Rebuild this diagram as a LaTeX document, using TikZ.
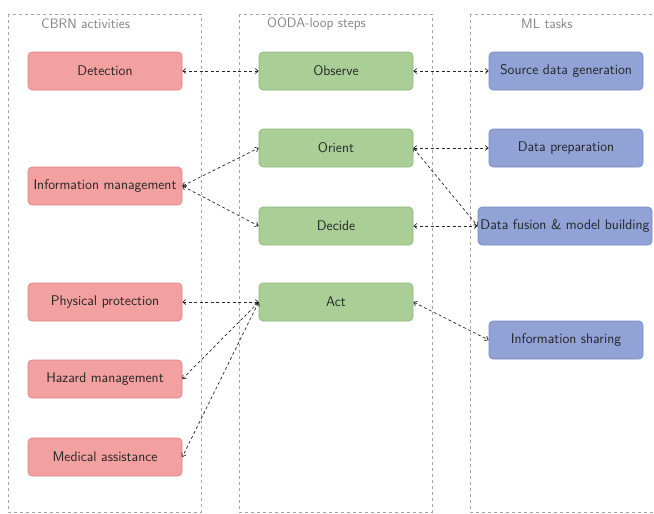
\documentclass[tikz,border=0pt]{standalone}
\usetikzlibrary{arrows.meta}
\definecolor{cbrnfill}{RGB}{243,160,160}
\definecolor{cbrndraw}{RGB}{220,130,130}
\definecolor{oodafill}{RGB}{169,207,151}
\definecolor{oodadraw}{RGB}{140,180,125}
\definecolor{mlfill}{RGB}{145,162,214}
\definecolor{mldraw}{RGB}{120,138,195}
\definecolor{colgray}{RGB}{165,165,165}
\definecolor{titlegray}{RGB}{130,130,130}
\tikzset{
  column/.style={draw=colgray, dashed, dash pattern=on 3pt off 3pt, line width=0.5pt},
  coltitle/.style={text=titlegray, font=\sffamily\fontsize{13.7}{16}\selectfont, anchor=west, inner sep=0pt},
  box/.style={rounded corners=4pt, minimum width=154pt, minimum height=38pt, line width=0.6pt,
              font=\sffamily\fontsize{14}{16}\selectfont, text=black!85, inner sep=2pt},
  cbrn/.style={box, fill=cbrnfill, draw=cbrndraw},
  ooda/.style={box, fill=oodafill, draw=oodadraw},
  ml/.style={box, fill=mlfill, draw=mldraw},
  link/.style={dashed, dash pattern=on 3pt off 2.5pt, line width=0.7pt, black!85,
               {Straight Barb[length=3pt,width=5pt]}-{Straight Barb[length=3pt,width=5pt]}}
}
\begin{document}
\begin{tikzpicture}[x=1pt, y=-1pt]
  \useasboundingbox (0,0) rectangle (654,514);
  \clip (0,0) rectangle (654,514);

  % three columns
  \draw[column] (8,14) rectangle (201,512);
  \draw[column] (239,14) rectangle (432,512);
  \draw[column] (470,14) rectangle (663,512);
  \node[coltitle] (t1) at (41,24) {CBRN activities};
  \node[coltitle] (t2) at (267,24) {OODA-loop steps};
  \node[coltitle] (t3) at (521,24) {ML tasks};

  % CBRN activities
  \node[cbrn] (det)  at (105,71)  {Detection};
  \node[cbrn] (info) at (105,186) {Information management};
  \node[cbrn] (phys) at (105,302) {Physical protection};
  \node[cbrn] (haz)  at (105,379) {Hazard management};
  \node[cbrn] (med)  at (105,457) {Medical assistance};

  % OODA-loop steps
  \node[ooda] (obs) at (336,71)  {Observe};
  \node[ooda] (ori) at (336,148) {Orient};
  \node[ooda] (dec) at (336,226) {Decide};
  \node[ooda] (act) at (336,302) {Act};

  % ML tasks
  \node[ml] (src)  at (566,71)  {Source data generation};
  \node[ml] (prep) at (566,148) {Data preparation};
  \node[ml, minimum width=174pt] (fus) at (565,226) {Data fusion \& model building};
  \node[ml] (shr)  at (566,340) {Information sharing};

  % links
  \draw[link] (det.east) -- (obs.west);
  \draw[link] (obs.east) -- (src.west);
  \draw[link] (info.east) -- (ori.west);
  \draw[link] (info.east) -- (dec.west);
  \draw[link] (ori.east) -- (prep.west);
  \draw[link] (ori.east) -- (fus.west);
  \draw[link] (dec.east) -- (fus.west);
  \draw[link] (act.west) -- (phys.east);
  \draw[link] (act.west) -- (haz.east);
  \draw[link] (act.west) -- (med.east);
  \draw[link] (act.east) -- (shr.west);
\end{tikzpicture}
\end{document}
